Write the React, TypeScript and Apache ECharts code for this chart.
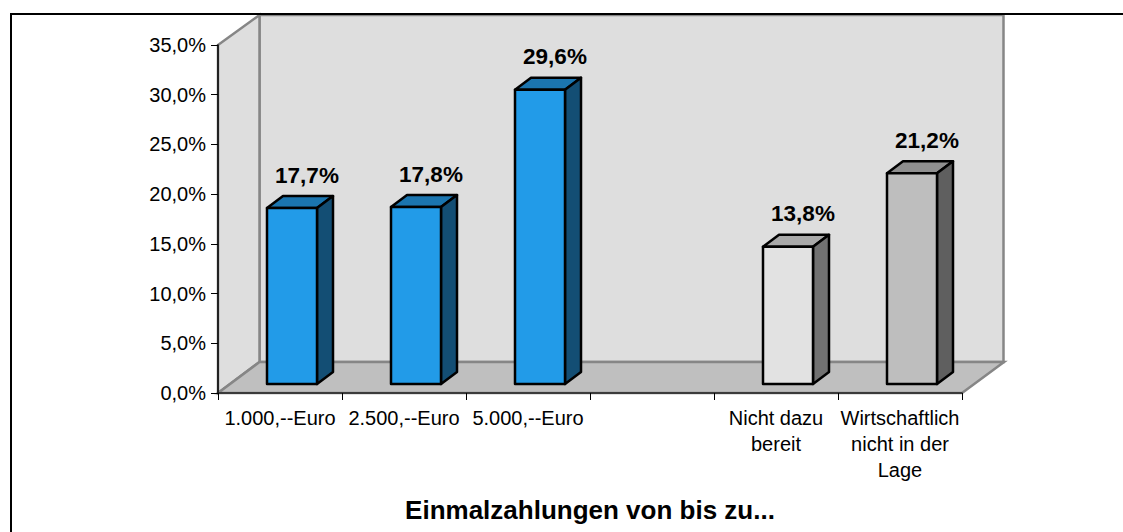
import React, { useEffect, useRef } from "react";
import * as echarts from "echarts";

const categories = ["1.000,--Euro", "2.500,--Euro", "5.000,--Euro", "", "Nicht dazu\nbereit", "Wirtschaftlich\nnicht in der\nLage"];
const values = [17.7, 17.8, 29.6, null, 13.8, 21.2];
const frontColors = ["#229BE8", "#229BE8", "#229BE8", "#229BE8", "#E2E2E2", "#BEBEBE"];
const topColors = ["#1B75AF", "#1B75AF", "#1B75AF", "#1B75AF", "#A9A9A9", "#8F8F8F"];
const sideColors = ["#134E74", "#134E74", "#134E74", "#134E74", "#717171", "#5F5F5F"];
const axisTitle = "Einmalzahlungen von bis zu...";

const FONT = "'Liberation Sans', Arial, sans-serif";
const fmt = (v: number) => v.toFixed(1).replace(".", ",") + "%";

export default function App() {
  const ref = useRef<HTMLDivElement>(null);
  useEffect(() => {
    document.body.style.margin = "0";
    const chart = echarts.init(ref.current!, null, { renderer: "svg" });
    const wallStroke = { stroke: "#868686", lineWidth: 2.5 };
    chart.setOption({
      animation: false,
      backgroundColor: "#fff",
      graphic: [
        { type: "rect", z: -4, shape: { x: 259.5, y: 15, width: 744, height: 347 }, style: { fill: "#DEDEDE", ...wallStroke } },
        { type: "polygon", z: -4, shape: { points: [[218, 45], [259.5, 15], [259.5, 362], [218, 393]] }, style: { fill: "#DEDEDE", ...wallStroke } },
        { type: "polygon", z: -3, shape: { points: [[218, 393], [259.5, 362], [1004, 362], [962, 393]] }, style: { fill: "#BFBFBF", ...wallStroke } },
        { type: "line", z: -2, shape: { x1: 10, y1: 14, x2: 1123, y2: 14 }, style: { stroke: "#000", lineWidth: 2 } },
        { type: "line", z: -2, shape: { x1: 11, y1: 13, x2: 11, y2: 532 }, style: { stroke: "#000", lineWidth: 2 } },
      ],
      grid: { left: 218, top: 45, width: 744, height: 348, containLabel: false },
      xAxis: {
        type: "category",
        data: categories,
        name: axisTitle,
        nameLocation: "middle",
        nameGap: 104,
        nameTextStyle: { fontFamily: FONT, fontSize: 26, fontWeight: "bold", color: "#000" },
        axisLine: { lineStyle: { color: "#222", width: 1.5 } },
        axisTick: { show: true, length: 7, alignWithLabel: false, lineStyle: { color: "#000", width: 1 } },
        axisLabel: { interval: 0, color: "#000", fontFamily: FONT, fontSize: 20, margin: 12, lineHeight: 26, hideOverlap: false },
        splitLine: { show: false },
      },
      yAxis: {
        type: "value",
        min: 0,
        max: 35,
        interval: 5,
        axisLine: { show: true, lineStyle: { color: "#000", width: 1.5 } },
        axisTick: { show: true, length: 7, lineStyle: { color: "#000", width: 1 } },
        axisLabel: { color: "#000", fontFamily: FONT, fontSize: 20, margin: 12, formatter: fmt },
        splitLine: { show: false },
      },
      series: [
        {
          type: "custom",
          z: 5,
          clip: false,
          data: values.map((v, i) => [i, v]),
          encode: { x: 0, y: 1 },
          renderItem: (params: any, api: any) => {
            const i = api.value(0);
            const v = api.value(1);
            if (v == null || Number.isNaN(v)) return null;
            const [cx, top] = api.coord([i, v]);
            const [, base] = api.coord([i, 0]);
            const ox = 12, oy = -9, hw = 25, dx = 16, dy = -12;
            const l = cx + ox - hw, r = cx + ox + hw;
            const t = top + oy, b = base + oy;
            const stroke = { stroke: "#000", lineWidth: 2.5, lineJoin: "round" };
            return {
              type: "group",
              children: [
                { type: "polygon", shape: { points: [[l, t], [r, t], [r + dx, t + dy], [l + dx, t + dy]] }, style: { fill: topColors[i], ...stroke } },
                { type: "polygon", shape: { points: [[r, t], [r + dx, t + dy], [r + dx, b + dy], [r, b]] }, style: { fill: sideColors[i], ...stroke } },
                { type: "rect", shape: { x: l, y: t, width: r - l, height: b - t }, style: { fill: frontColors[i], ...stroke } },
                {
                  type: "text",
                  x: cx + ox + 15,
                  y: t - 33,
                  style: { text: fmt(v), fill: "#000", font: `bold 22.5px ${FONT}`, align: "center", verticalAlign: "middle" },
                },
              ],
            };
          },
        },
      ],
    });
    return () => chart.dispose();
  }, []);
  return <div ref={ref} style={{ width: 1123, height: 532 }} />;
}
